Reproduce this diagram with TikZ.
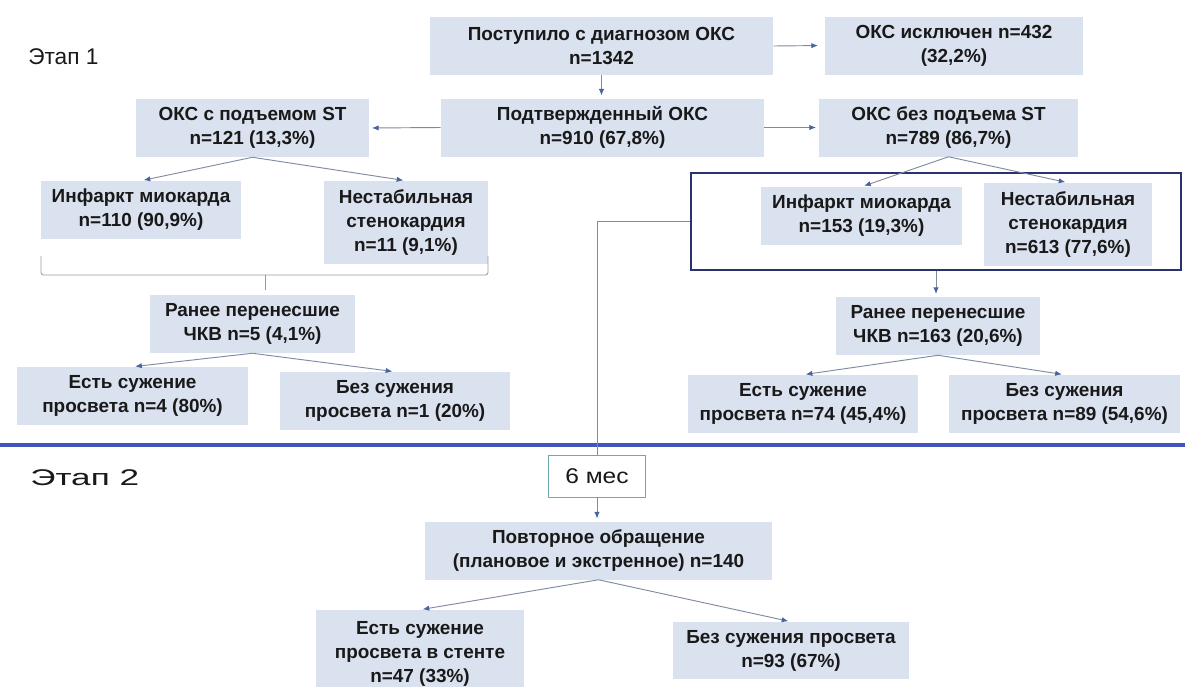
\documentclass[tikz,border=0pt]{standalone}
\usepackage{fontspec}
\setmainfont{Liberation Sans}
\usetikzlibrary{arrows.meta}
\definecolor{boxfill}{RGB}{218,225,239}
\definecolor{linkgray}{RGB}{128,138,160}
\definecolor{tipblue}{RGB}{70,100,160}
\definecolor{framenavy}{RGB}{40,50,110}
\definecolor{sepblue}{RGB}{68,84,188}
\definecolor{sixteal}{RGB}{110,170,170}
\definecolor{txt}{RGB}{25,25,25}
\begin{document}
\begin{tikzpicture}[x=0.75pt,y=-0.75pt,
	box/.style={fill=boxfill,text=txt,align=center,inner sep=2pt,minimum height=43.5pt,font=\bfseries\fontsize{14.2}{18}\selectfont},
	stage/.style={anchor=west,inner sep=0pt,text=txt,font=\fontsize{17}{20}\selectfont},
	arr/.style={draw=linkgray,line width=0.7pt,-{Latex[length=5pt,width=4pt,color=tipblue]},shorten >=2pt},
	link/.style={draw=linkgray,line width=0.7pt},
	frame/.style={draw=framenavy,line width=1.9pt},
	sixbox/.style={draw=sixteal,fill=white,line width=0.7pt,text=txt,font=\fontsize{16}{18}\selectfont},
	brace/.style={draw=gray!80,line width=0.6pt,rounded corners=2pt}]
	\useasboundingbox (0,0) rectangle (1185,686);
	% stage 1
	\node[stage] (st1) at (28,57) {Этап 1};
	\node[box,minimum width=257.25pt] (adm) at (601.5,46) {Поступило с диагнозом ОКС\\n=1342};
	\node[box,minimum width=193.5pt] (excl) at (954,45.5) {ОКС исключен n=432\\(32,2\%)};
	\node[box,minimum width=242.25pt] (conf) at (602.5,127.5) {Подтвержденный ОКС\\n=910 (67,8\%)};
	\node[box,minimum width=174.75pt] (stemi) at (252.5,128) {ОКС с подъемом ST\\n=121 (13,3\%)};
	\node[box,minimum width=194.25pt] (nstemi) at (948.5,127.5) {ОКС без подъема ST\\n=789 (86,7\%)};
	% left branch
	\node[box,minimum width=150pt] (miA) at (141,210) {Инфаркт миокарда\\n=110 (90,9\%)};
	\node[box,minimum width=123pt,minimum height=62.25pt] (uaA) at (406,222.5) {Нестабильная\\стенокардия\\n=11 (9,1\%)};
	\node[box,minimum width=153.75pt] (pciA) at (252.5,324) {Ранее перенесшие\\ЧКВ n=5 (4,1\%)};
	\node[box,minimum width=173.25pt] (yesA) at (132.5,396) {Есть сужение\\просвета n=4 (80\%)};
	\node[box,minimum width=172.5pt] (noA) at (395,401) {Без сужения\\просвета n=1 (20\%)};
	% right branch
	\node[frame,minimum width=367.5pt,minimum height=72.75pt] (grp) at (936,221.5) {};
	\node[box,minimum width=150.75pt] (miB) at (861.5,216) {Инфаркт миокарда\\n=153 (19,3\%)};
	\node[box,minimum width=126pt,minimum height=62.25pt] (uaB) at (1068,224.5) {Нестабильная\\стенокардия\\n=613 (77,6\%)};
	\node[box,minimum width=153pt] (pciB) at (938,326) {Ранее перенесшие\\ЧКВ n=163 (20,6\%)};
	\node[box,minimum width=172.5pt] (yesB) at (803,404) {Есть сужение\\просвета n=74 (45,4\%)};
	\node[box,minimum width=173.25pt] (noB) at (1064.5,404) {Без сужения\\просвета n=89 (54,6\%)};
	% stage 2
	\draw[sepblue,line width=2.4pt] (0,445) -- (1185,445);
	\node[stage] (st2) at (30,478) {\scalebox{1.55}[1]{Этап 2}};
	\node[sixbox,minimum width=72.75pt,minimum height=31.5pt] (six) at (597,476) {\scalebox{1.15}[1]{6 мес}};
	\node[box,minimum width=260.25pt] (rep) at (598.5,550.5) {Повторное обращение\\(плановое и экстренное) n=140};
	\node[box,minimum width=156pt,minimum height=66pt] (yesC) at (420,654) {Есть сужение\\просвета в стенте\\n=47 (33\%)};
	\node[box,minimum width=177pt,minimum height=42.75pt] (noC) at (791,650.5) {Без сужения просвета\\n=93 (67\%)};
	% arrows
	\draw[arr,shorten >=5pt] (adm.east) -- (excl.west);
	\draw[arr] (adm.south) -- (adm.south |- conf.north);
	\draw[arr] (conf.west) -- (stemi.east);
	\draw[arr] (conf.east) -- (nstemi.west);
	\draw[arr] (stemi.south) -- (miA.north);
	\draw[arr] (stemi.south) -- (uaA.north);
	\draw[arr] (nstemi.south) -- (miB.north);
	\draw[arr] (nstemi.south) -- (uaB.north);
	\draw[arr] (grp.south) -- (grp.south |- pciB.north);
	\draw[arr] (pciA.south) -- (yesA.north);
	\draw[arr] (pciA.south) -- (noA.north);
	\draw[arr] (pciB.south) -- (yesB.north);
	\draw[arr] (pciB.south) -- (noB.north);
	\draw[link] (grp.west) -| (six.north);
	\draw[arr] (six.south) -- (six.south |- rep.north);
	\draw[arr] (rep.south) -- (yesC.north);
	\draw[arr] (rep.south) -- (noC.north);
	% bracket under the left pair
	\draw[brace] (41,256) -- (41,275) -- (488,275) -- (488,256);
	\draw[brace] (265,275) -- (265,290);
\end{tikzpicture}
\end{document}
